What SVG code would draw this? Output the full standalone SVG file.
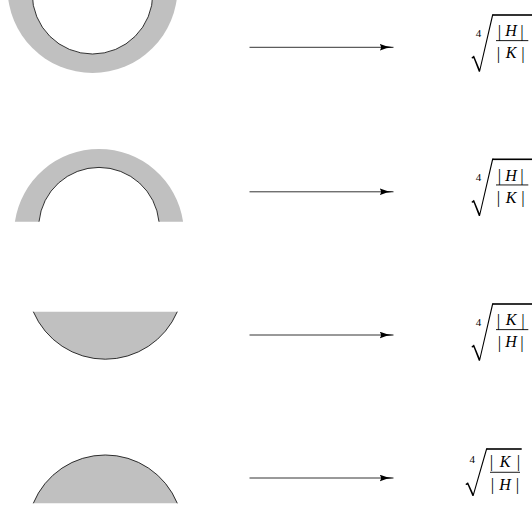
<svg xmlns="http://www.w3.org/2000/svg" width="532" height="512" viewBox="0 0 532 512">
  <style>
    .fill{fill:#c0c0c0;stroke:none}
    .edge{fill:none;stroke:#000;stroke-width:0.8}
    .hole{fill:#fff;stroke:#000;stroke-width:0.8}
    .arrow{stroke:#000;stroke-width:0.8;fill:none;marker-end:url(#head)}
    .m{font-family:"Liberation Serif","Times New Roman",serif;font-size:17px;fill:#000;text-anchor:middle}
    .mi{font-family:"Liberation Serif","Times New Roman",serif;font-size:16px;font-style:italic;fill:#000;text-anchor:middle}
    .idx{font-family:"Liberation Serif","Times New Roman",serif;font-size:11px;fill:#000;text-anchor:middle}
    .rad{fill:#000;stroke:none}
  </style>
  <defs>
    <marker id="head" markerUnits="userSpaceOnUse" viewBox="0 0 14 7" markerWidth="14" markerHeight="7" refX="14" refY="3.5" orient="auto">
      <path d="M0,0 Q6,3 14,3.5 Q6,4 0,7 Q3,3.5 0,0 Z" fill="#000"/>
    </marker>
  </defs>

  <g id="shape1">
    <circle class="fill" cx="92.5" cy="-12" r="85"/>
    <circle class="hole" cx="92.5" cy="-6.3" r="60.3"/>
  </g>
  <g id="shape2">
    <path class="fill" d="M14.9,221.7 A85,85 0 0 1 183.1,221.7 L159,221.7 A60.3,60.3 0 0 0 39,221.7 Z"/>
    <path class="edge" d="M159,221.7 A60.3,60.3 0 0 0 39,221.7"/>
  </g>
  <g id="shape3">
    <path class="fill" d="M33.3,311.7 A78.3,78.3 0 0 0 177.3,311.7 Z"/>
    <path class="edge" d="M33.3,311.7 A78.3,78.3 0 0 0 177.3,311.7"/>
  </g>
  <g id="shape4">
    <path class="fill" d="M33.3,503.3 A77.8,77.8 0 0 1 177.3,503.3 Z"/>
    <path class="edge" d="M33.3,503.3 A77.8,77.8 0 0 1 177.3,503.3"/>
  </g>

  <g id="connectors">
    <line class="arrow" x1="249.5" y1="47.3" x2="393.5" y2="47.3"/>
    <line class="arrow" x1="249.5" y1="191.8" x2="393.5" y2="191.8"/>
    <line class="arrow" x1="249.5" y1="335" x2="393.5" y2="335"/>
    <line class="arrow" x1="249.5" y1="478" x2="393.5" y2="478"/>
  </g>

  <g id="formula1">
    <path class="rad" d="M471.5,57.5 L474,55.5 L479.6,69 L492.2,14.2 L493.4,14.2 L480,71.8 L478.8,71.8 L473.6,58.2 L472,58.5 Z"/>
    <rect x="492.7" y="14.2" width="40" height="1.6" fill="#000"/>
    <text class="idx" x="478.5" y="37">4</text>
    <text class="m" x="499.5" y="37">|</text>
    <text class="mi" x="511" y="36.3">H</text>
    <text class="m" x="522" y="37">|</text>
    <rect x="496" y="40.2" width="32.3" height="0.9" fill="#000"/>
    <text class="m" x="498.5" y="59">|</text>
    <text class="mi" x="511" y="58.3">K</text>
    <text class="m" x="523" y="59">|</text>
  </g>
  <g id="formula2" transform="translate(0,144.3)">
    <path class="rad" d="M471.5,57.5 L474,55.5 L479.6,69 L492.2,14.2 L493.4,14.2 L480,71.8 L478.8,71.8 L473.6,58.2 L472,58.5 Z"/>
    <rect x="492.7" y="14.2" width="40" height="1.6" fill="#000"/>
    <text class="idx" x="478.5" y="37">4</text>
    <text class="m" x="499.5" y="37">|</text>
    <text class="mi" x="511" y="36.3">H</text>
    <text class="m" x="522" y="37">|</text>
    <rect x="496" y="40.2" width="32.3" height="0.9" fill="#000"/>
    <text class="m" x="498.5" y="59">|</text>
    <text class="mi" x="511" y="58.3">K</text>
    <text class="m" x="523" y="59">|</text>
  </g>
  <g id="formula3" transform="translate(0,289)">
    <path class="rad" d="M471.5,57.5 L474,55.5 L479.6,69 L492.2,14.2 L493.4,14.2 L480,71.8 L478.8,71.8 L473.6,58.2 L472,58.5 Z"/>
    <rect x="492.7" y="14.2" width="40" height="1.6" fill="#000"/>
    <text class="idx" x="478.5" y="37">4</text>
    <text class="m" x="498.5" y="37">|</text>
    <text class="mi" x="511" y="36.3">K</text>
    <text class="m" x="523" y="37">|</text>
    <rect x="496" y="40.2" width="32.3" height="0.9" fill="#000"/>
    <text class="m" x="499.5" y="59">|</text>
    <text class="mi" x="511" y="58.3">H</text>
    <text class="m" x="522" y="59">|</text>
  </g>
  <g id="formula4">
    <path class="rad" d="M465.5,484 L468,482.3 L473.2,493.5 L486.2,448.2 L487.4,448.2 L473.6,496 L472.4,496 L467.6,484.8 L466,485 Z"/>
    <rect x="486.7" y="448.2" width="35" height="1.6" fill="#000"/>
    <text class="idx" x="472.2" y="462.5">4</text>
    <text class="m" x="491.5" y="467.3">|</text>
    <text class="mi" x="505" y="466.7">K</text>
    <text class="m" x="518.5" y="467.3">|</text>
    <rect x="490" y="471.8" width="30" height="0.9" fill="#000"/>
    <text class="m" x="492.5" y="490.3">|</text>
    <text class="mi" x="505" y="489.7">H</text>
    <text class="m" x="517.5" y="490.3">|</text>
  </g>
</svg>
